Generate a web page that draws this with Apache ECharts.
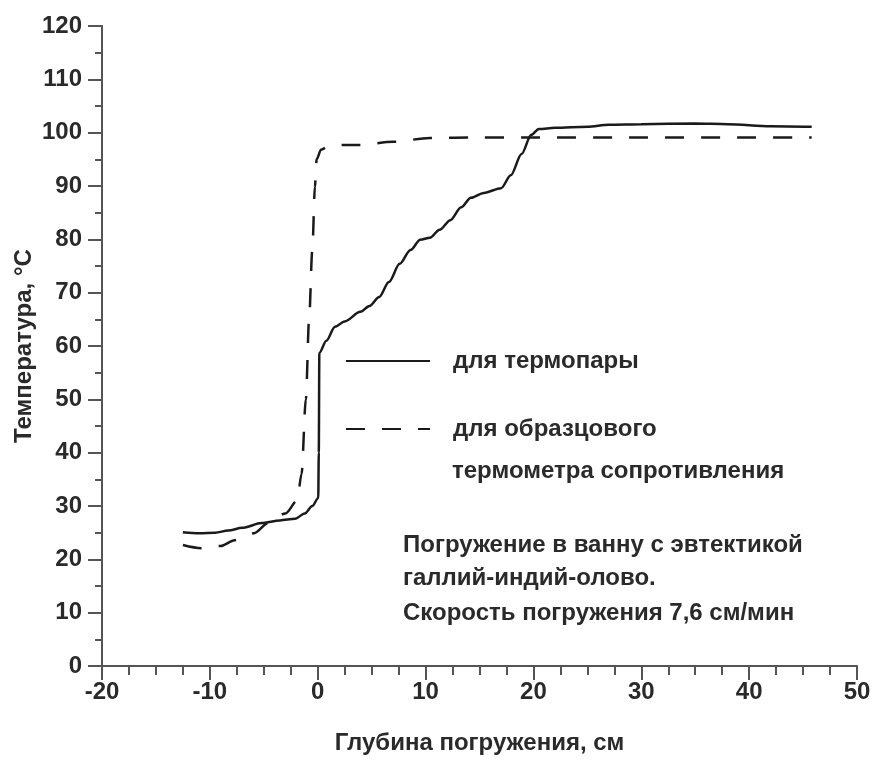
<!DOCTYPE html>
<html>
<head>
<meta charset="utf-8">
<script src="https://cdn.jsdelivr.net/npm/echarts@6/dist/echarts.min.js"></script>
<style>
html,body{margin:0;padding:0;background:#fff;}
#chart{width:880px;height:764px;}
</style>
</head>
<body>
<div id="chart"></div>
<script>
// Thermocouple (solid)
var thermocoupleX = [-12.5,-11,-9.5,-8.3,-7,-5.2,-3.5,-2.1,-1.2,-0.5,0.05,0.1,0.15,0.8,1.6,2.5,3.96,4.8,5.7,6.6,7.6,8.6,9.5,10.4,11.3,12.3,13.3,14.2,15.4,17,17.9,18.9,19.8,20.5,22,25,27,30,35,38,42,45.8];
var thermocoupleY = [25.1,24.9,25,25.4,25.9,26.8,27.3,27.6,28.6,30,31.5,40,58.7,61,63.6,64.6,66.4,67.5,69.2,72,75.4,78,79.9,80.3,81.8,83.6,86,87.8,88.7,89.6,92,96,99.6,100.7,100.9,101.1,101.5,101.6,101.7,101.6,101.2,101.1];
// Reference resistance thermometer (dashed)
var refX = [-12.5,-10.8,-9,-7.7,-5.9,-4.6,-3,-1.9,-1.5,-1.1,-0.8,-0.5,-0.26,-0.1,0.3,1.05,2.5,3.9,7,10.4,15,20,30,40,45.8];
var refY = [22.7,22.1,22.5,23.6,24.9,26.8,28.6,31,36,50,65,78,89.8,95,96.8,97.5,97.7,97.7,98.3,99,99.1,99.1,99.1,99.1,99.1];

var nameSolid = 'для термопары';
var nameDashed = 'для образцового';
var nameDashed2 = 'термометра сопротивления';
var noteLines = ['Погружение в ванну с эвтектикой', 'галлий-индий-олово.', 'Скорость погружения 7,6 см/мин'];
var xTitle = 'Глубина погружения, см';
var yTitle = 'Температура, °С';

function pairs(xs, ys){ return xs.map(function(x,i){ return [x, ys[i]]; }); }

var FONT = '"Liberation Sans", Arial, sans-serif';
var TXT = '#2a2a2a';
var FW = 'bold';
var chart = echarts.init(document.getElementById('chart'), null, {renderer:'canvas'});
chart.setOption({
  backgroundColor:'#fff',
  animation:false,
  grid:{left:102, right:23, top:26, bottom:98, containLabel:false},
  xAxis:{
    type:'value', min:-20, max:50, interval:10,
    name:xTitle, nameLocation:'middle', nameGap:65, nameMoveOverlap:false,
    nameTextStyle:{fontFamily:FONT, fontSize:24, fontWeight:FW, color:TXT},
    axisLine:{onZero:false, lineStyle:{color:'#555', width:2}},
    axisTick:{show:true, length:14, lineStyle:{color:'#555', width:2}},
    minorTick:{show:true, splitNumber:4, length:9, lineStyle:{color:'#555', width:2}},
    splitLine:{show:false},
    axisLabel:{fontFamily:FONT, fontSize:24, fontWeight:FW, color:TXT, margin:14}
  },
  yAxis:{
    type:'value', min:0, max:120, interval:10,
    name:yTitle, nameLocation:'middle', nameGap:66, nameRotate:90, nameMoveOverlap:false,
    nameTextStyle:{fontFamily:FONT, fontSize:24, fontWeight:FW, color:TXT},
    axisLine:{show:true, onZero:false, lineStyle:{color:'#555', width:2}},
    axisTick:{show:true, length:14, lineStyle:{color:'#555', width:2}},
    minorTick:{show:true, splitNumber:2, length:7, lineStyle:{color:'#555', width:2}},
    splitLine:{show:false},
    axisLabel:{fontFamily:FONT, fontSize:24, fontWeight:FW, color:TXT, margin:20}
  },
  legend:[
    {data:[nameSolid], left:345, top:349, orient:'vertical', itemWidth:84, itemHeight:14, padding:0,
     itemStyle:{color:'rgba(0,0,0,0)', borderColor:'rgba(0,0,0,0)', borderWidth:0},
     textStyle:{fontFamily:FONT, fontSize:24, fontWeight:FW, color:TXT, lineHeight:24, padding:[0,0,0,18]}},
    {data:[nameDashed], left:345, top:417, orient:'vertical', itemWidth:84, itemHeight:14, padding:0,
     itemStyle:{color:'rgba(0,0,0,0)', borderColor:'rgba(0,0,0,0)', borderWidth:0},
     textStyle:{fontFamily:FONT, fontSize:24, fontWeight:FW, color:TXT, lineHeight:24, padding:[0,0,0,18]}}
  ],
  graphic:[
    {type:'text', left:452, top:459, style:{text:nameDashed2, font:FW+' 24px '+FONT, fill:TXT}},
    {type:'text', left:403, top:533, style:{text:noteLines[0], font:FW+' 24px '+FONT, fill:TXT}},
    {type:'text', left:403, top:566, style:{text:noteLines[1], font:FW+' 24px '+FONT, fill:TXT}},
    {type:'text', left:403, top:601, style:{text:noteLines[2], font:FW+' 24px '+FONT, fill:TXT}}
  ],
  series:[
    {name:nameSolid, type:'line', data:pairs(thermocoupleX, thermocoupleY), showSymbol:false, symbol:'none',
     smooth:0.3, smoothMonotone:'x', lineStyle:{color:'#1a1a1a', width:2.5, type:'solid'}, itemStyle:{color:'#1a1a1a'}},
    {name:nameDashed, type:'line', data:pairs(refX, refY), showSymbol:false, symbol:'none',
     smooth:0.3, smoothMonotone:'x', lineStyle:{color:'#1a1a1a', width:2.5, type:[19,17]}, itemStyle:{color:'#1a1a1a'}}
  ]
});
</script>
</body>
</html>
